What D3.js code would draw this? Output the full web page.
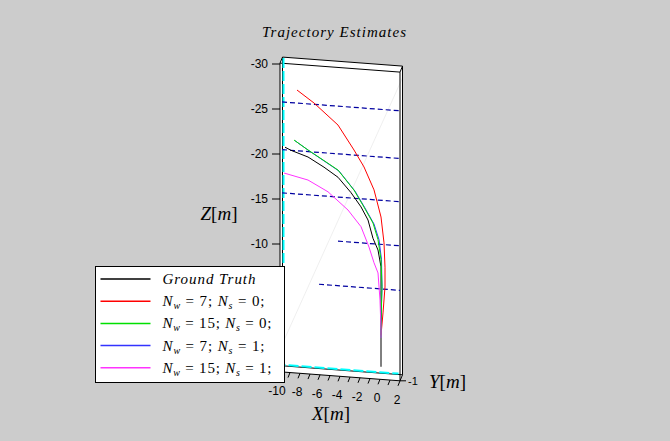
<!DOCTYPE html>
<html>
<head>
<meta charset="utf-8">
<script src="https://cdn.jsdelivr.net/npm/d3@7"></script>
<style>
  body { margin: 0; background: #cccccc; }
  text { font-family: "Liberation Sans", Arial, sans-serif; }
  .serif { font-family: "Liberation Serif", "DejaVu Serif", serif; }
</style>
</head>
<body>
<div id="chart"></div>
<script>
const width = 670,
  height = 441;

// trajectories (x, z in metres, all at y = -1)
const gtX = [-9.5, -8.9, -7.2, -5.6, -4.2, -2.9, -1.9, -1.2, -0.7, -0.2, 0.1, 0.1, 0.1, 0.1];
const gtZ = [-20.8, -20.5, -19.9, -18.9, -17.9, -16.3, -14.8, -13.4, -11.4, -10.15, -8.3, -5.7, -1.6, 2.8];
const redX = [-8.3, -6.6, -4.2, -2.6, -1.6, -0.6, 0.1, 0.4, 0.5, 0.5, 0.3, 0.1];
const redZ = [-27.25, -25.95, -23.7, -21.06, -19.26, -16.8, -13.84, -11.0, -8.3, -6.1, -3.2, -0.7];
const greenX = [-8.6, -7.2, -5.7, -4.2, -2.6, -1.6, -0.7, -0.2, 0.1, 0.2, 0.1, 0.1];
const greenZ = [-21.67, -20.68, -19.7, -18.7, -16.6, -14.8, -13.1, -11.3, -9.1, -6.1, -2.4, -0.4];
const blueX = [-8.5, -7.1, -5.6, -4.1, -2.5, -1.5, -0.6, -0.1, 0.15, 0.2, 0.1, 0.1];
const blueZ = [-21.6, -20.6, -19.6, -18.6, -16.5, -14.7, -13.0, -11.3, -9.1, -6.1, -2.4, -0.4];
const magX = [-9.6, -7.2, -5.2, -3.2, -1.9, -1.1, -0.6, -0.2, 0.0, 0.1, 0.1];
const magZ = [-17.92, -17.34, -16.2, -14.34, -12.6, -10.4, -8.7, -7.6, -4.6, -1.3, -0.4];

// dashed reference lines
const dashZ = [-25.8, -20.5, -15.7, -10.8, -5.85];
const dashStart = [-9.8, -9.8, -9.8, -4.2, -6.1];
const dashEnd = [2, 2, 2, 2, 2];

// ticks (lower z ticks sit behind the legend)
const xTicks = [-10, -9, -8, -7, -6, -5, -4, -3, -2, -1, 0, 1, 2];
const xTickLabels = [-10, -8, -6, -4, -2, 0, 2];
const zTicks = [-30, -25, -20, -15, -10];
const yTicks = [-1];

const series = [
  { name: "Ground Truth", color: "#000000", x: gtX, z: gtZ, w: 93, order: 0 },
  { name: ["N", "w", " = 7; ", "N", "s", " = 0;"], color: "#ff0000", x: redX, z: redZ, w: 102, order: 1 },
  { name: ["N", "w", " = 15; ", "N", "s", " = 0;"], color: "#00e000", x: greenX, z: greenZ, w: 109, order: 3 },
  { name: ["N", "w", " = 7; ", "N", "s", " = 1;"], color: "#3333ff", x: blueX, z: blueZ, w: 102, order: 2 },
  { name: ["N", "w", " = 15; ", "N", "s", " = 1;"], color: "#ff33ff", x: magX, z: magZ, w: 109, order: 4 }
];

const svg = d3.select("#chart")
  .append("svg")
  .attr("width", width)
  .attr("height", height);

svg.append("rect").attr("width", width).attr("height", height).attr("fill", "#cccccc");

// oblique 3d projection
const xDom = [-10, 2], yDom = [-1, -0.8], zDom = [-30.1, 4.2];
const xs = d3.scaleLinear().domain([-10, 2]).range([0, 120]);
const ys = d3.scaleLinear().domain([-1, -0.8]).range([0, 1]);
const zs = d3.scaleLinear().domain([-30, 4.2]).range([64, 371.8]);
const proj = (x, y, z) => [280 + xs(x) + ys(y) * 2.5, zs(z) + xs(x) * 0.075 - ys(y) * 6];

const line = d3.line();

// box background
const corners = [];
[xDom[0], xDom[1]].forEach(x => [yDom[0], yDom[1]].forEach(y => [zDom[0], zDom[1]].forEach(z => corners.push(proj(x, y, z)))));
svg.append("path")
  .attr("d", line(d3.polygonHull(corners)) + "Z")
  .attr("fill", "#ffffff");

// faint diagonal
svg.append("path")
  .attr("d", line([proj(2, -0.8, -28.8), proj(-10.5, -0.8, 3)]))
  .attr("fill", "none")
  .attr("stroke", "#e4e4e4")
  .attr("stroke-width", 0.6);

// box edges
const edges = [];
[yDom[0], yDom[1]].forEach(y => [zDom[0], zDom[1]].forEach(z => edges.push([proj(xDom[0], y, z), proj(xDom[1], y, z)])));
[xDom[0], xDom[1]].forEach(x => [zDom[0], zDom[1]].forEach(z => edges.push([proj(x, yDom[0], z), proj(x, yDom[1], z)])));
[xDom[0], xDom[1]].forEach(x => [yDom[0], yDom[1]].forEach(y => edges.push([proj(x, y, zDom[0]), proj(x, y, zDom[1])])));
svg.selectAll(".edge")
  .data(edges)
  .enter()
  .append("path")
  .attr("d", d => line(d))
  .attr("stroke", "#000")
  .attr("stroke-width", 1);

// cyan dashed line along left and bottom
svg.append("path")
  .attr("d", line([proj(-9.9, -0.8, -30), proj(-9.9, -0.8, 4.1), proj(1.6, -0.8, 4.1)]))
  .attr("fill", "none")
  .attr("stroke", "#00ffff")
  .attr("stroke-width", 2)
  .attr("stroke-dasharray", "10,3");

// blue dashed lines
svg.selectAll(".dash")
  .data(dashZ)
  .enter()
  .append("path")
  .attr("d", (z, i) => line([proj(dashStart[i], -1, z), proj(dashEnd[i], -1, z)]))
  .attr("stroke", "#0000a0")
  .attr("stroke-width", 1.2)
  .attr("stroke-dasharray", "5,3");

// trajectories
svg.selectAll(".traj")
  .data(series.slice().sort((a, b) => a.order - b.order))
  .enter()
  .append("path")
  .attr("d", s => line(s.x.map((x, i) => proj(x, -1, s.z[i]))))
  .attr("fill", "none")
  .attr("stroke", s => s.color)
  .attr("stroke-width", 1)
  .attr("stroke-linejoin", "round");

// z ticks
svg.selectAll(".ztick")
  .data(zTicks)
  .enter()
  .append("path")
  .attr("d", z => { const p = proj(-10, -1, z); return line([p, [p[0] - 8, p[1]]]); })
  .attr("stroke", "#000");
svg.selectAll(".zlab")
  .data(zTicks)
  .enter()
  .append("text")
  .attr("x", z => proj(-10, -1, z)[0] - 12)
  .attr("y", z => proj(-10, -1, z)[1] + 4)
  .attr("text-anchor", "end")
  .attr("font-size", 12)
  .text(d => d);

// x ticks
svg.selectAll(".xtick")
  .data(xTicks)
  .enter()
  .append("path")
  .attr("d", x => { const p = proj(x, -1, zDom[1]); return line([p, [p[0] - 2, p[1] + 5]]); })
  .attr("stroke", "#000");
svg.selectAll(".xlab")
  .data(xTickLabels)
  .enter()
  .append("text")
  .attr("x", x => proj(x, -1, zDom[1])[0] - 3)
  .attr("y", x => proj(x, -1, zDom[1])[1] + 23)
  .attr("text-anchor", "middle")
  .attr("font-size", 12)
  .text(d => d);

// y ticks
svg.selectAll(".ytick")
  .data(yTicks)
  .enter()
  .append("path")
  .attr("d", y => { const p = proj(2, y, zDom[1]); return line([p, [p[0] + 6, p[1]]]); })
  .attr("stroke", "#000");
svg.selectAll(".ylab")
  .data(yTicks)
  .enter()
  .append("text")
  .attr("x", y => proj(2, y, zDom[1])[0] + 8)
  .attr("y", y => proj(2, y, zDom[1])[1] + 4)
  .attr("font-size", 11)
  .text(d => d);

// axis labels
function axisLabel(letter, x, y, anchor) {
  const t = svg.append("text")
    .attr("class", "serif")
    .attr("x", x)
    .attr("y", y)
    .attr("font-size", 19)
    .attr("text-anchor", anchor);
  t.append("tspan").attr("font-style", "italic").text(letter);
  t.append("tspan").text("[");
  t.append("tspan").attr("font-style", "italic").text("m");
  t.append("tspan").text("]");
}
axisLabel("Z", 219, 220, "middle");
axisLabel("X", 331, 420, "middle");
axisLabel("Y", 429, 388, "start");

// title
svg.append("text")
  .attr("class", "serif")
  .attr("x", 262)
  .attr("y", 37)
  .attr("font-size", 15)
  .attr("font-style", "italic")
  .attr("textLength", 144)
  .attr("lengthAdjust", "spacing")
  .text("Trajectory Estimates");

// legend
const legend = svg.append("g").attr("transform", "translate(95.5,266.5)");
legend.append("rect")
  .attr("width", 189)
  .attr("height", 116)
  .attr("fill", "#fff")
  .attr("stroke", "#000");
const rows = legend.selectAll(".row")
  .data(series)
  .enter()
  .append("g")
  .attr("transform", (d, i) => `translate(0,${12.5 + i * 22.2})`);
rows.append("line")
  .attr("x1", 5).attr("x2", 55)
  .attr("stroke", d => d.color)
  .attr("stroke-width", 1.5);
rows.each(function(d) {
  const t = d3.select(this).append("text")
    .attr("class", "serif")
    .attr("x", 67)
    .attr("y", 5)
    .attr("font-size", 15)
    .attr("textLength", d.w)
    .attr("lengthAdjust", "spacing");
  if (typeof d.name === "string") {
    t.attr("font-style", "italic").text(d.name);
  } else {
    t.append("tspan").attr("font-style", "italic").text(d.name[0]);
    t.append("tspan").attr("font-style", "italic").attr("font-size", 10).attr("dy", 3).text(d.name[1]);
    t.append("tspan").attr("dy", -3).text(d.name[2]);
    t.append("tspan").attr("font-style", "italic").text(d.name[3]);
    t.append("tspan").attr("font-style", "italic").attr("font-size", 10).attr("dy", 3).text(d.name[4]);
    t.append("tspan").attr("dy", -3).text(d.name[5]);
  }
});
</script>
</body>
</html>
